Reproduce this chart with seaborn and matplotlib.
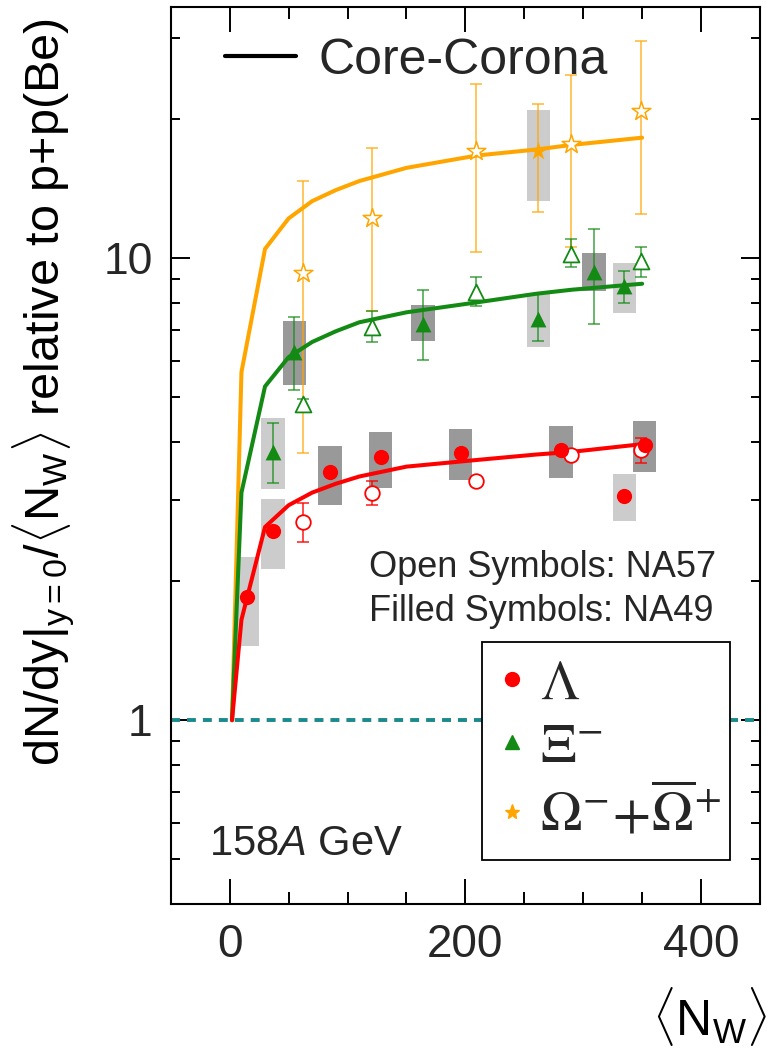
import matplotlib
matplotlib.use("Agg")
import matplotlib.pyplot as plt
from matplotlib.lines import Line2D
from matplotlib.ticker import FixedLocator, NullFormatter, FixedFormatter, MultipleLocator
import numpy as np
import seaborn as sns

# ---------------- data ----------------
# Core-corona model curves
cc_nw = [2, 10, 30, 50, 70, 90, 110, 150, 210, 260, 290, 350]
cc_lambda = [1.0, 1.65, 2.62, 2.92, 3.11, 3.25, 3.37, 3.54, 3.66, 3.76, 3.81, 3.96]
cc_xi = [1.0, 3.11, 5.28, 6.11, 6.59, 6.95, 7.27, 7.64, 8.03, 8.38, 8.55, 8.81]
cc_omega = [1.0, 5.67, 10.48, 12.2, 13.3, 14.05, 14.7, 15.7, 16.7, 17.2, 17.6, 18.25]

# NA49 (filled symbols): values, stat. errors, systematic boxes
na49_lam_nw = [15, 37, 85, 128, 196, 281, 335, 352]
na49_lam_y = [1.85, 2.57, 3.44, 3.71, 3.79, 3.84, 3.06, 3.95]
na49_lam_syslo = [1.45, 2.12, 2.92, 3.19, 3.31, 3.34, 2.70, 3.45]
na49_lam_syshi = [2.26, 3.01, 3.93, 4.21, 4.28, 4.33, 3.41, 4.44]
na49_lam_shade = ["light", "light", "dark", "dark", "dark", "dark", "light", "dark"]

na49_xi_nw = [37, 55, 164, 262, 309, 335]
na49_xi_y = [3.81, 6.27, 7.22, 7.38, 9.33, 8.69]
na49_xi_lo = [3.27, 5.19, 6.01, 6.61, 7.20, 8.00]
na49_xi_hi = [4.40, 7.48, 8.52, 8.36, 11.6, 9.40]
na49_xi_syslo = [3.16, 5.33, 6.61, 6.43, 8.48, 7.63]
na49_xi_syshi = [4.52, 7.33, 7.91, 8.41, 10.27, 9.78]
na49_xi_shade = ["light", "dark", "dark", "light", "dark", "light"]

na49_om_nw = [262]
na49_om_y = [17.09]
na49_om_lo = [12.6]
na49_om_hi = [21.6]
na49_om_syslo = [13.3]
na49_om_syshi = [21.0]
na49_om_shade = ["light"]

# NA57 (open symbols): values and errors
na57_nw = [62, 121, 209, 290, 349]
na57_lam_y = [2.69, 3.11, 3.29, 3.75, 3.84]
na57_lam_lo = [2.43, 2.92, 3.22, 3.68, 3.61]
na57_lam_hi = [2.95, 3.30, 3.36, 3.82, 4.09]
na57_xi_y = [4.83, 7.10, 8.45, 10.22, 9.86]
na57_xi_lo = [4.70, 6.58, 7.90, 9.60, 9.10]
na57_xi_hi = [4.96, 7.70, 9.10, 11.0, 10.6]
na57_om_y = [9.28, 12.2, 17.09, 17.66, 20.84]
na57_om_lo = [3.78, 7.7, 10.3, 10.6, 12.5]
na57_om_hi = [14.7, 17.3, 23.9, 24.9, 29.5]

x_ticks = [0, 200, 400]
y_ticks = [1, 10]
y_ticklabels = ["1", "10"]

# ---------------- style ----------------
sns.set_theme(style="ticks")
plt.rcParams["font.family"] = ["Liberation Sans", "DejaVu Sans"]
plt.rcParams["mathtext.fontset"] = "custom"
plt.rcParams["mathtext.rm"] = "Liberation Sans"
plt.rcParams["mathtext.it"] = "Liberation Sans:italic"
plt.rcParams["mathtext.bf"] = "Liberation Sans:bold"

RED = "#ff0000"
GREEN = "#138a13"
ORANGE = "#ffa500"
SHADES = {"light": "#cccccc", "dark": "#999999"}

fig = plt.figure(figsize=(7.67, 10.52), dpi=100)
ax = fig.add_axes([0.2226, 0.1407, 0.7683, 0.8526])
ax.set_yscale("log")
ax.set_xlim(-50, 450)
ax.set_ylim(0.4, 35)


def sys_boxes(nw, lo, hi, shade):
    lo = np.asarray(lo)
    hi = np.asarray(hi)
    ax.bar(nw, hi - lo, bottom=lo, width=20,
           color=[SHADES[s] for s in shade], linewidth=0, zorder=1)


sys_boxes(na49_lam_nw, na49_lam_syslo, na49_lam_syshi, na49_lam_shade)
sys_boxes(na49_xi_nw, na49_xi_syslo, na49_xi_syshi, na49_xi_shade)
sys_boxes(na49_om_nw, na49_om_syslo, na49_om_syshi, na49_om_shade)

# reference level
ax.axhline(1.0, color="#1a8a8a", lw=2.8, ls=(0, (2.3, 1.8)), zorder=2)


def err(nw, y, lo, hi, color, alpha=1.0):
    y = np.asarray(y)
    ax.errorbar(nw, y, yerr=[y - np.asarray(lo), np.asarray(hi) - y], fmt="none",
                ecolor=color, elinewidth=1.1, capsize=4, capthick=1.1,
                alpha=alpha, zorder=3)


err(na57_nw, na57_om_y, na57_om_lo, na57_om_hi, ORANGE, 0.8)
err(na49_om_nw, na49_om_y, na49_om_lo, na49_om_hi, ORANGE, 0.8)
err(na57_nw, na57_xi_y, na57_xi_lo, na57_xi_hi, GREEN, 0.8)
err(na49_xi_nw, na49_xi_y, na49_xi_lo, na49_xi_hi, GREEN, 0.8)
err(na57_nw, na57_lam_y, na57_lam_lo, na57_lam_hi, RED, 0.9)

# core-corona curves
for vals, c in [(cc_omega, ORANGE), (cc_xi, GREEN), (cc_lambda, RED)]:
    sns.lineplot(x=cc_nw, y=vals, color=c, lw=2.9, ax=ax, zorder=4,
                 estimator=None, sort=False)

# open symbols (NA57)
sns.scatterplot(x=na57_nw, y=na57_lam_y, marker="o", s=110, color="white",
                edgecolor=RED, linewidth=1.3, ax=ax, zorder=5)
sns.scatterplot(x=na57_nw, y=na57_xi_y, marker="^", s=130, color="white",
                edgecolor=GREEN, linewidth=1.3, ax=ax, zorder=5)
sns.scatterplot(x=na57_nw, y=na57_om_y, marker="*", s=200, color="white",
                edgecolor=ORANGE, linewidth=1.1, ax=ax, zorder=5)

# filled symbols (NA49)
sns.scatterplot(x=na49_lam_nw, y=na49_lam_y, marker="o", s=120, color=RED,
                edgecolor=RED, linewidth=0, ax=ax, zorder=6)
sns.scatterplot(x=na49_xi_nw, y=na49_xi_y, marker="^", s=130, color=GREEN,
                edgecolor=GREEN, linewidth=0, ax=ax, zorder=6)
sns.scatterplot(x=na49_om_nw, y=na49_om_y, marker="*", s=200, color=ORANGE,
                edgecolor=ORANGE, linewidth=0, ax=ax, zorder=6)

# ---------------- axes ----------------
ax.xaxis.set_major_locator(FixedLocator(x_ticks))
ax.xaxis.set_minor_locator(MultipleLocator(50))
ax.yaxis.set_major_locator(FixedLocator(y_ticks))
ax.yaxis.set_major_formatter(FixedFormatter(y_ticklabels))
ax.yaxis.set_minor_locator(FixedLocator([0.4, 0.5, 0.6, 0.7, 0.8, 0.9,
                                         2, 3, 4, 5, 6, 7, 8, 9, 20, 30]))
ax.yaxis.set_minor_formatter(NullFormatter())
ax.tick_params(which="both", direction="in", top=True, right=True,
               width=1.4, color="black")
ax.tick_params(axis="x", which="major", length=18, labelsize=33, pad=14)
ax.tick_params(axis="x", which="minor", length=8.6)
ax.tick_params(axis="y", which="major", length=13.5, labelsize=32, pad=13)
ax.tick_params(axis="y", which="minor", length=6.5)
for sp in ax.spines.values():
    sp.set_linewidth(1.5)
    sp.set_color("black")
ax.grid(False)

ax.set_ylabel(r"dN/dy$|_{\mathrm{y=0}}$/$\langle$N$_{\mathrm{W}}\rangle$ relative to p+p(Be)",
              fontsize=35, color="black")
ax.yaxis.set_label_coords(-0.159, 0.571)
ax.set_xlabel(r"$\langle$N$_{\mathrm{W}}\rangle$", fontsize=36, color="black",
              loc="right")
ax.xaxis.set_label_coords(1.012, -0.090)

# annotations
ax.text(0.336, 0.365, "Open Symbols: NA57", transform=ax.transAxes,
        fontsize=26, va="baseline", ha="left")
ax.text(0.336, 0.316, "Filled Symbols: NA49", transform=ax.transAxes,
        fontsize=26, va="baseline", ha="left")
ax.text(0.065, 0.0546, r"158$\mathit{A}$ GeV", transform=ax.transAxes,
        fontsize=30, va="baseline", ha="left")

# model legend
cc_handle = Line2D([], [], color="black", lw=3)
leg1 = ax.legend([cc_handle], ["Core-Corona"], loc="center left",
                 bbox_to_anchor=(0.092, 0.94), frameon=False, fontsize=36,
                 handlelength=1.42, handletextpad=0.46, borderpad=0,
                 borderaxespad=0)
ax.add_artist(leg1)

# particle legend
sp_handles = [
    Line2D([], [], ls="none", marker="o", ms=10, color=RED),
    Line2D([], [], ls="none", marker="^", ms=10, color=GREEN),
    Line2D([], [], ls="none", marker="*", ms=11, color=ORANGE),
]
sp_labels = [r"$\Lambda$", r"$\Xi^{\mathsf{-}}$",
             r"$\Omega^{\mathsf{-}}\!+\!\overline{\Omega}^{\mathsf{+}}$"]
leg2 = ax.legend(sp_handles, sp_labels, loc="lower left",
                 bbox_to_anchor=(0.528, 0.049, 0.421, 0.243), mode="expand",
                 fontsize=40, frameon=True, fancybox=False, framealpha=1,
                 edgecolor="black", handlelength=0.5, handletextpad=0.24,
                 borderpad=0.3, labelspacing=0.2, borderaxespad=0)
leg2.get_frame().set_linewidth(1.3)
for t in leg2.get_texts():
    t.set_math_fontfamily("stix")

fig.savefig("out.png", dpi=100)
